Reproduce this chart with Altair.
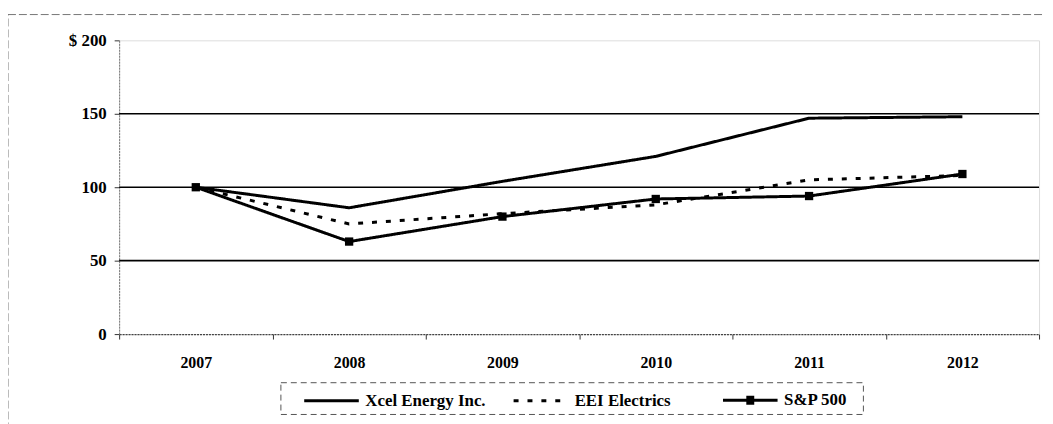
import altair as alt
import pandas as pd

years = ["2007", "2008", "2009", "2010", "2011", "2012"]
series_names = ["Xcel Energy Inc.", "EEI Electrics", "S&P 500"]
xcel = [100, 86, 104, 121, 147, 148]
eei = [100, 75, 82, 88, 105, 108]
sp500 = [100, 63, 80, 92, 94, 109]
y_ticks = [0, 50, 100, 150, 200]
grid_values = [50, 100, 150]

rows = []
for name, vals in zip(series_names, [xcel, eei, sp500]):
    for yr, v in zip(years, vals):
        rows.append({"year": yr, "series": name, "value": v})
df = pd.DataFrame(rows)
grid_df = pd.DataFrame({"g": grid_values})

W, H = 927, 296
FONT = "Liberation Serif"

x_enc = alt.X(
    "year:O",
    scale=alt.Scale(type="band", paddingInner=0, paddingOuter=0),
    bandPosition=0.5,
    axis=alt.Axis(
        title=None, tickBand="extent", labelAngle=0, labelFont=FONT,
        labelFontWeight="bold", labelFontSize=16, labelColor="black",
        tickSize=5, tickColor="#333", labelPadding=16,
        domainColor="#444", domainDash=[2, 1], domainWidth=1.2,
        grid=False,
    ),
)
y_scale = alt.Scale(domain=[0, 200], nice=False)
y_axis = alt.Axis(
    title=None, values=y_ticks, labelFont=FONT, labelFontWeight="bold",
    labelFontSize=17, labelColor="black", tickSize=5, tickColor="#333",
    labelPadding=8, domainColor="#777", domainDash=[2, 1],
    grid=False,
    labelExpr="datum.value == 200 ? '$ 200' : datum.label",
)
y_enc = alt.Y("value:Q", scale=y_scale, axis=y_axis)

line_path = "M0.6,0H6.1"
sq_path = ("M0.6,0H6.1"
           "M2.95,-0.3H3.75M2.95,-0.1H3.75M2.95,0.1H3.75M2.95,0.3H3.75")

legend = alt.Legend(
    orient="none", legendX=163, legendY=345, direction="horizontal",
    title=None, symbolSize=400, gridAlign="all",
    symbolStrokeWidth=3, symbolOpacity=1,
    labelFont=FONT, labelFontWeight="bold", labelFontSize=17,
    labelColor="black", labelOffset=56,
    padding=6, columnPadding=10,
)

lines = alt.Chart(df).mark_line(color="black", strokeWidth=3).encode(
    x=x_enc,
    y=y_enc,
    strokeDash=alt.StrokeDash(
        "series:N",
        scale=alt.Scale(domain=series_names,
                        range=[[1, 0], [5, 9], [1, 0]]),
        sort=series_names,
        legend=legend,
    ),
)

legend_pts = alt.Chart(df).mark_point(
    size=0, filled=True, fill="black", stroke="black", strokeWidth=3
).encode(
    x=x_enc,
    y=y_enc,
    shape=alt.Shape(
        "series:N",
        scale=alt.Scale(domain=series_names,
                        range=[line_path, line_path, sq_path]),
        sort=series_names,
        legend=legend,
    ),
)

points = alt.Chart(df[df["series"] == "S&P 500"]).mark_point(
    shape="square", filled=True, color="black", size=70, opacity=1
).encode(x=x_enc, y=y_enc)

grid = alt.Chart(grid_df).mark_rule(color="black", strokeWidth=1.6).encode(
    y=alt.Y("g:Q", scale=y_scale, axis=y_axis)
)

one = pd.DataFrame({"a": [0]})
frame = alt.Chart(one).mark_rect(
    fill=None, stroke="#777", strokeDash=[8, 3], strokeWidth=1
).encode(
    x=alt.value(-112), x2=alt.value(W + 40),
    y=alt.value(-26), y2=alt.value(H + 200),
)

legend_box = alt.Chart(one).mark_rect(
    fill=None, stroke="#555", strokeDash=[6, 4], strokeWidth=1
).encode(
    x=alt.value(163), x2=alt.value(750),
    y=alt.value(345), y2=alt.value(377),
)

chart = alt.layer(frame, grid, lines, legend_pts, points, legend_box).properties(
    width=W, height=H,
    autosize=alt.AutoSizeParams(type="none"),
    padding={"left": 112, "top": 31, "right": 6, "bottom": 90},
).configure_view(
    stroke="#777", strokeDash=[2, 1], strokeWidth=1, clip=False
).configure(background="white")

chart.save("out.html", embed_options={"renderer": "svg", "actions": False})
